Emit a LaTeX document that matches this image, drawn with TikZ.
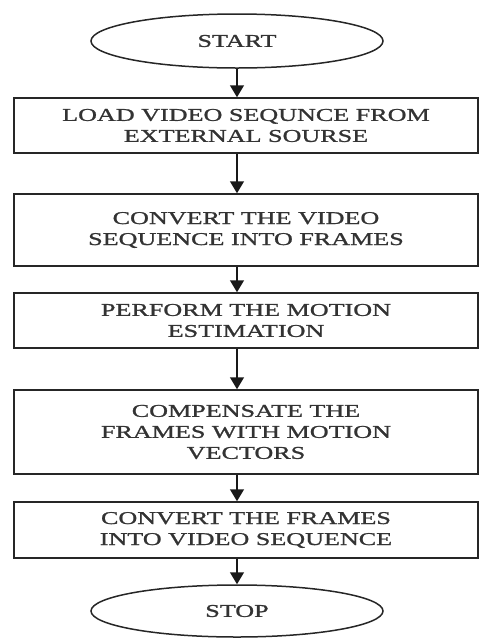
\documentclass[tikz,border=0pt]{standalone}
\usepackage{fontspec}
\setmainfont{Liberation Serif}
\newfontfamily\flowfont[FakeStretch=1.45,FakeBold=1.2]{Liberation Serif}
\usetikzlibrary{shapes.geometric,arrows.meta}
\begin{document}
\begin{tikzpicture}[x=1pt,y=-1pt,
    term/.style={draw=black!85,ellipse,line width=1.5pt,minimum width=292pt,minimum height=54pt,inner sep=0pt,text=black!80,font=\flowfont\fontsize{18}{21}\selectfont},
    proc/.style={draw=black!85,rectangle,line width=1.5pt,minimum width=464pt,inner sep=0pt,align=center,text=black!80,font=\flowfont\fontsize{18}{21}\selectfont},
    flow/.style={draw=black!90,-{Triangle[width=14pt,length=12pt]},line width=1.5pt}]
  \useasboundingbox (0,0) rectangle (480,638);
  \node[term] (start) at (237,41) {START};
  \node[proc,minimum height=55pt] (load) at (246,125.5) {LOAD VIDEO SEQUNCE FROM\\EXTERNAL SOURSE};
  \node[proc,minimum height=72pt] (split) at (246,230) {CONVERT THE VIDEO\\SEQUENCE INTO FRAMES};
  \node[proc,minimum height=55pt] (motion) at (246,320.5) {PERFORM THE MOTION\\ESTIMATION};
  \node[proc,minimum height=84pt] (comp) at (246,432) {COMPENSATE THE\\FRAMES WITH MOTION\\VECTORS};
  \node[proc,minimum height=56pt] (join) at (246,530) {CONVERT THE FRAMES\\INTO VIDEO SEQUENCE};
  \node[term,minimum height=52pt] (stop) at (237,611) {STOP};
  \draw[flow] (start) -- (start |- load.north);
  \draw[flow] (start |- load.south) -- (start |- split.north);
  \draw[flow] (start |- split.south) -- (start |- motion.north);
  \draw[flow] (start |- motion.south) -- (start |- comp.north);
  \draw[flow] (start |- comp.south) -- (start |- join.north);
  \draw[flow] (start |- join.south) -- (stop);
\end{tikzpicture}
\end{document}
